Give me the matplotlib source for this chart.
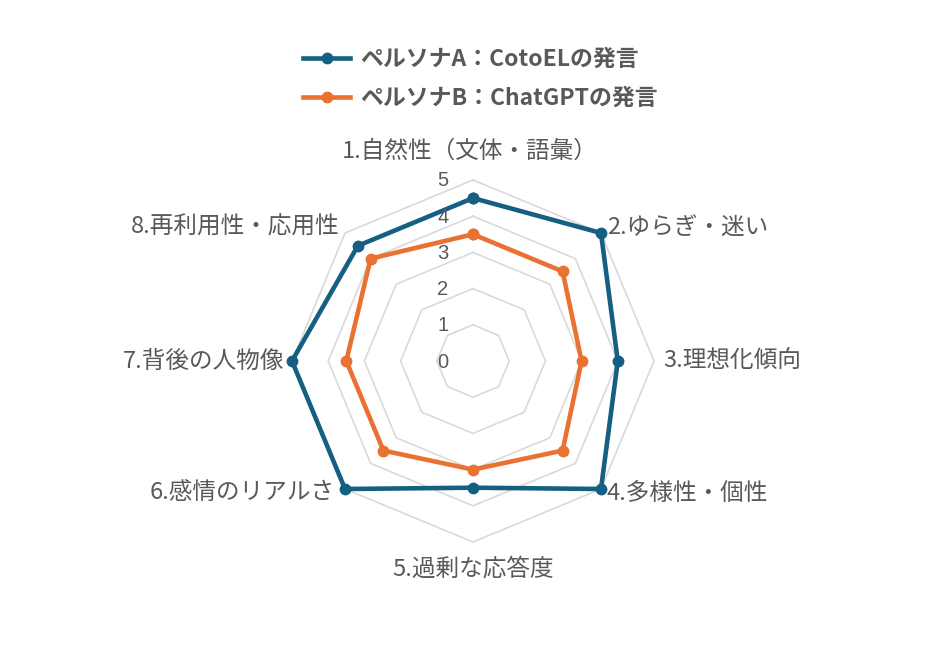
import numpy as np
import matplotlib
matplotlib.use("Agg")
import matplotlib.pyplot as plt
import matplotlib.transforms as mtransforms

plt.rcParams['font.family'] = ['Noto Sans CJK JP', 'DejaVu Sans']

categories = ["1.自然性（文体・語彙）", "2.ゆらぎ・迷い", "3.理想化傾向", "4.多様性・個性",
              "5.過剰な応答度", "6.感情のリアルさ", "7.背後の人物像", "8.再利用性・応用性"]
persona_a = [4.5, 5, 4, 5, 3.5, 5, 5, 4.5]
persona_b = [3.5, 3.5, 3, 3.5, 3, 3.5, 3.5, 4]
series_names = ["ペルソナA：CotoELの発言", "ペルソナB：ChatGPTの発言"]
ticks = [0, 1, 2, 3, 4, 5]

col_a = "#156082"
col_b = "#E97132"
txt = "#595959"
grid = "#D9D9D9"

W, H = 932, 661
fig = plt.figure(figsize=(W/100, H/100), dpi=100)
cx, cy, R = 473, 300, 181
ax = fig.add_axes([(cx-R)/W, (cy-R)/H, 2*R/W, 2*R/H], projection='polar')
ax.set_theta_zero_location('N')
ax.set_theta_direction(-1)
ax.set_ylim(0, 5)
ax.set_xticks([])
ax.set_yticks([])
ax.grid(False)
ax.spines['polar'].set_visible(False)
ax.patch.set_alpha(0)

n = len(categories)
theta = np.linspace(0, 2*np.pi, n, endpoint=False)
theta_c = np.concatenate([theta, theta[:1]])

for lv in ticks[1:]:
    ax.plot(theta_c, [lv]*(n+1), color=grid, lw=1.2, zorder=1, clip_on=False)

for vals, col, name in [(persona_a, col_a, series_names[0]), (persona_b, col_b, series_names[1])]:
    v = list(vals) + [vals[0]]
    ax.plot(theta_c, v, color=col, lw=3.3, marker='o', ms=7.5, zorder=3,
            clip_on=False, label=name, solid_joinstyle='round')

def off(dx, dy):
    return mtransforms.offset_copy(ax.transData, fig=fig, x=dx*0.72, y=dy*0.72, units='points')

for lv in ticks:
    ax.text(0, lv, str(lv), transform=off(-30, -1), ha='center', va='center',
            fontsize=14.5, color=txt, family=['Liberation Sans', 'DejaVu Sans'])

label_pos = [(-3, 29, 'center'), (6, 5, 'left'), (9, 0, 'left'), (6, -4, 'left'),
             (0, -27, 'center'), (-10, -4, 'right'), (-8, 0, 'right'), (-6, 6, 'right')]
for i, (lab, (dx, dy, ha)) in enumerate(zip(categories, label_pos)):
    ax.text(theta[i], 5, lab, transform=off(dx, dy), ha=ha, va='center',
            fontsize=17, color=txt)

fs = 16.5
fpx = fs / 72 * 100
leg = fig.legend(loc='upper left', bbox_to_anchor=(303/W, 1-48/H), frameon=False,
                 handlelength=47/fpx, handletextpad=10/fpx,
                 labelspacing=0.7, borderpad=0, borderaxespad=0,
                 prop={'weight': 'bold', 'size': fs})
for t in leg.get_texts():
    t.set_color(txt)

fig.savefig("out.png", dpi=100, facecolor='white')
